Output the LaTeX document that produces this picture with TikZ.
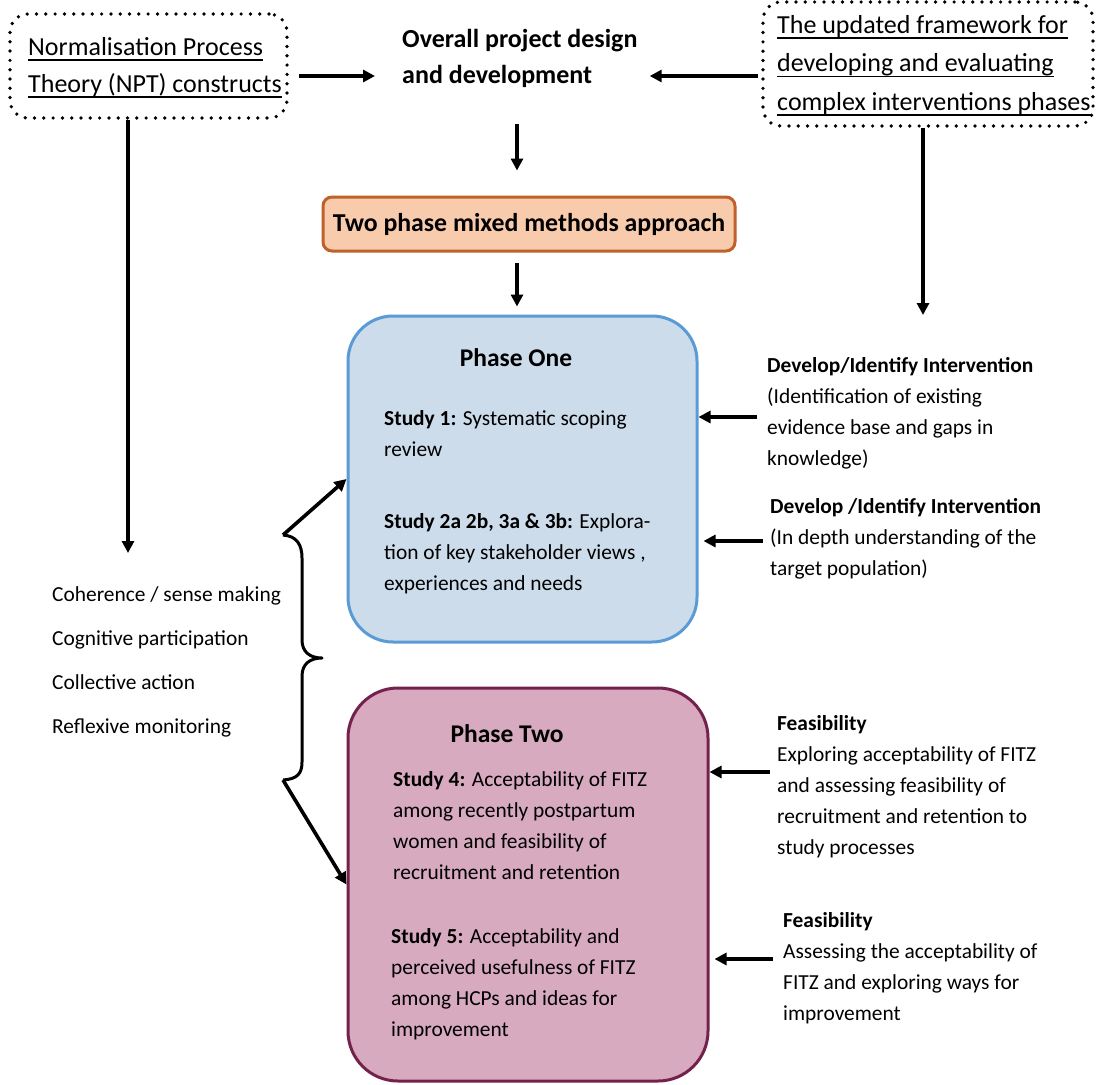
\documentclass[tikz,border=0pt]{standalone}
\usepackage{fontspec}
\setmainfont{Carlito}
\usetikzlibrary{arrows.meta,calc}

\definecolor{oneFill}{HTML}{CCDCEB}
\definecolor{oneLine}{HTML}{5B9BD5}
\definecolor{twoFill}{HTML}{D7AABF}
\definecolor{twoLine}{HTML}{74224C}
\definecolor{mixFill}{HTML}{F8CBAD}
\definecolor{mixLine}{HTML}{C0602A}

% invisible strut fixing the height of a first line
\newcommand{\tstrut}[1]{\rule{0pt}{#1}}
% underline at a fixed distance below the baseline
\newsavebox{\ulnbox}
\newcommand{\uln}[1]{\sbox{\ulnbox}{#1}\rlap{\rule[-5.5pt]{\wd\ulnbox}{1.6pt}}\usebox{\ulnbox}}

\begin{document}
\begin{tikzpicture}[x=1pt,y=-1pt,
  body/.style={font=\fontsize{21.4}{31}\selectfont, align=left, inner sep=0pt, anchor=north west},
  bigtxt/.style={font=\fontsize{26}{37}\selectfont, align=left, inner sep=0pt, anchor=north west},
  dotbox/.style={draw, line width=3.7pt, dash pattern=on 0pt off 9.3pt, line cap=round, rounded corners=18pt, inner sep=0pt},
  phasebox/.style={line width=3pt, inner sep=0pt},
  titletxt/.style={font=\bfseries\fontsize{25.5}{30}\selectfont, inner sep=0pt, anchor=base},
  arr/.style={line width=3.6pt, -{Triangle[length=12pt,width=12pt]}},
  braceline/.style={line width=3pt, line join=round}]
\useasboundingbox (0,0) rectangle (1097,1084);

% --- top row: theory, overall design, framework ---
\node[dotbox, minimum width=277pt, minimum height=104pt] (npt) at (148.5,66) {};
\node[bigtxt] (npttxt) at (28,31) {\tstrut{24pt}\uln{Normalisation Process}\\\uln{Theory (NPT) constructs}};

\node[dotbox, minimum width=330pt, minimum height=124pt] (fw) at (928,64) {};
\node[bigtxt, font=\fontsize{26}{38.5}\selectfont] (fwtxt) at (777,9) {\tstrut{24pt}\uln{The updated framework for}\\\uln{developing and evaluating}\\\uln{complex interventions phases}};

\node[bigtxt, font=\bfseries\fontsize{26}{36}\selectfont] (ov) at (402,23) {\tstrut{24pt}Overall project design\\and development};

% --- approach box ---
\node[draw=mixLine, fill=mixFill, line width=3pt, rounded corners=9pt, minimum width=412pt, minimum height=54pt, inner sep=0pt, font=\bfseries\fontsize{25.8}{30}\selectfont] (tp) at (529,224) {Two phase mixed methods approach};

% --- phase one ---
\node[phasebox, draw=oneLine, fill=oneFill, rounded corners=45pt, minimum width=349pt, minimum height=326pt] (p1) at (522.5,479) {};
\node[titletxt] (p1t) at (516,366) {Phase One};
\node[body] (s1) at (384,405) {\tstrut{20pt}\textbf{Study 1:} Systematic scoping\\review};
\node[body] (s2) at (384,508) {\tstrut{20pt}\textbf{Study 2a 2b, 3a \& 3b:} Explora-\\tion of key stakeholder views ,\\experiences and needs};

% --- phase two ---
\node[phasebox, draw=twoLine, fill=twoFill, rounded corners=50pt, minimum width=360pt, minimum height=393pt] (p2) at (528,884.5) {};
\node[titletxt] (p2t) at (507,742) {Phase Two};
\node[body] (s4) at (393,766) {\tstrut{20pt}\textbf{Study 4:} Acceptability of FITZ\\among recently postpartum\\women and feasibility of\\recruitment and retention};
\node[body] (s5) at (391,923) {\tstrut{20pt}\textbf{Study 5:} Acceptability and\\perceived usefulness of FITZ\\among HCPs and ideas for\\improvement};

% --- framework phase labels ---
\node[body] (r1) at (767,352) {\tstrut{20pt}\textbf{Develop/Identify Intervention}\\(Identification of existing\\evidence base and gaps in\\knowledge)};
\node[body] (r2) at (770,493) {\tstrut{20pt}\textbf{Develop /Identify Intervention}\\(In depth understanding of the\\target population)};
\node[body] (r3) at (777,710) {\tstrut{20pt}\textbf{Feasibility}\\Exploring acceptability of FITZ\\and assessing feasibility of\\recruitment and retention to\\study processes};
\node[body] (r4) at (783,907) {\tstrut{20pt}\textbf{Feasibility}\\Assessing the acceptability of\\FITZ and exploring ways for\\improvement};

% --- NPT constructs ---
\node[body, font=\fontsize{21.4}{44}\selectfont] (npc) at (52,581) {\tstrut{20pt}Coherence / sense making\\Cognitive participation\\Collective action\\Reflexive monitoring};

% --- connectors ---
\coordinate (ya) at (0,76);
\coordinate (mid) at (517,0);
\draw[arr] ($(npt.east |- ya)+(10,0)$) -- ($(ov.west |- ya)+(-27,0)$);
\draw[arr] ($(fw.west |- ya)+(-3,0)$) -- ($(ov.east |- ya)+(12,0)$);
\draw[arr, shorten <=37pt, shorten >=25pt] (ov.south -| mid) -- (tp.north -| mid);
\draw[arr, shorten <=10pt, shorten >=8pt] (tp.south -| mid) -- (p1.north -| mid);

\coordinate (n1) at (128,553);
\draw[arr] (npt.south -| n1) -- (n1);
\coordinate (f1) at (923,315);
\draw[arr] (fw.south -| f1) -- (f1);

\coordinate (a1) at (757,417);
\draw[arr] (a1) -- (p1.east |- a1);
\coordinate (a2) at (763,541);
\draw[arr] (a2) -- ($(p1.east |- a2)+(5,0)$);
\coordinate (a3) at (770,772);
\draw[arr] (a3) -- (p2.east |- a3);
\coordinate (a4) at (773,959);
\draw[arr] (a4) -- ($(p2.east |- a4)+(5,0)$);

% --- brace grouping the constructs ---
\coordinate (bt) at (283,535);
\coordinate (bm) at (322,658);
\coordinate (bb) at (283,780);
\draw[braceline] (bt) .. controls (297,536) and (302,545) .. (302,558) -- (302,640)
  .. controls (302,652) and (310,658) .. (bm)
  .. controls (310,658) and (302,664) .. (302,676) -- (302,762)
  .. controls (302,774) and (297,779) .. (bb);
\draw[arr] (bt) -- (p1.west);
\draw[arr] (bb) -- (p2.west);
\end{tikzpicture}
\end{document}
